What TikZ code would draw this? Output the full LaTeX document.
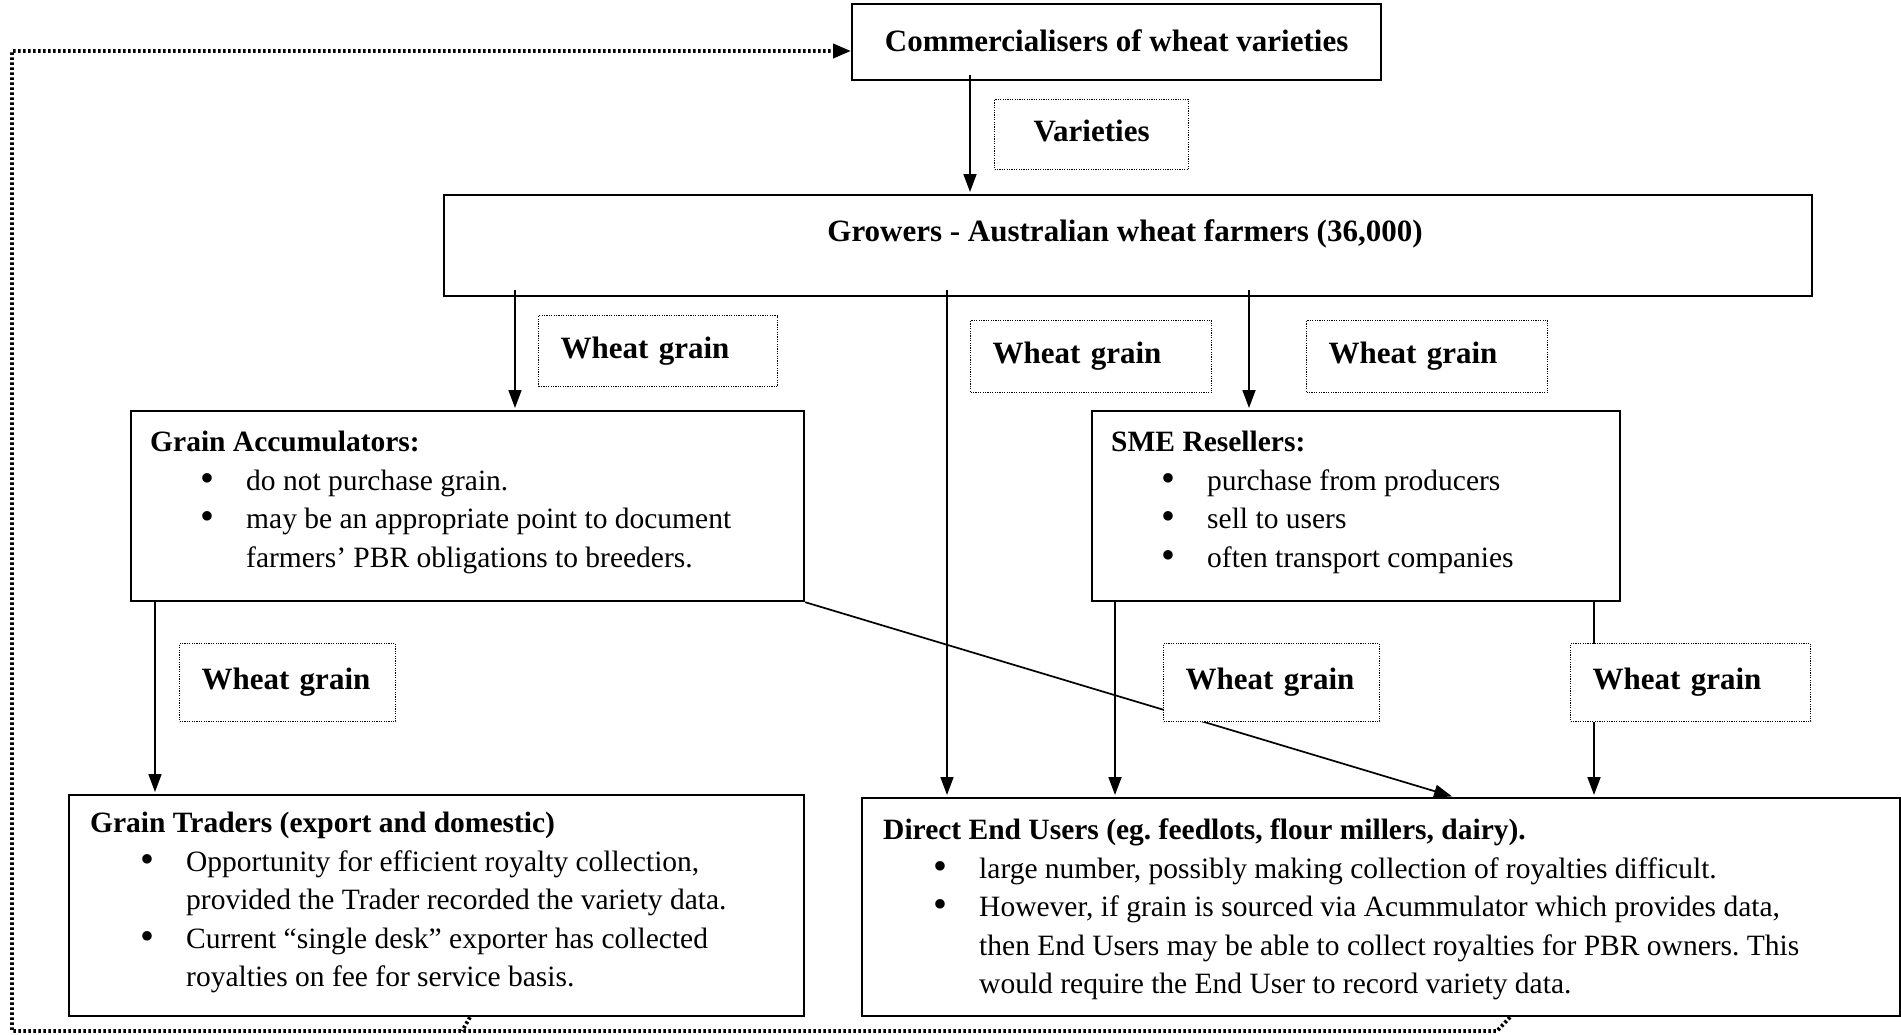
\documentclass[tikz,border=0pt]{standalone}
\usepackage{fontspec}
\usepackage{graphicx}
\setmainfont{Liberation Serif}
\usetikzlibrary{arrows.meta}
\newcommand\bul{\hspace*{50pt}\makebox[46pt][l]{\smash{\raisebox{-1pt}{\scalebox{1.35}{•}}}}}
\newcommand\cont{\hspace*{96pt}}
\frenchspacing
\begin{document}
\begin{tikzpicture}[x=1pt,y=-1pt,
 box/.style={draw, line width=2.2pt, anchor=north west, inner sep=0pt},
 lbl/.style={draw, fill=white, line width=1.2pt, dash pattern=on 1.2pt off 1.2pt, anchor=north west, inner xsep=22pt, inner ysep=0pt, align=left, font=\bfseries\fontsize{31}{36}\selectfont},
 body/.style={anchor=north west, inner sep=0pt, align=left, font=\fontsize{29.5}{38.5}\selectfont},
 ttl/.style={font=\bfseries\fontsize{31}{36}\selectfont, inner sep=0pt},
 arr/.style={line width=1.7pt, -{Triangle[length=18pt,width=13pt]}, shorten >=2pt},
 fb/.style={line width=3.8pt, dash pattern=on 2.6pt off 2.4pt}
]
\useasboundingbox (0,0) rectangle (1901,1034);

% main boxes
\node[box, minimum width=529pt, minimum height=76pt, ttl] (comm) at (851,3) {\raisebox{3pt}{Commercialisers of wheat varieties}};
\node[box, minimum width=1368pt, minimum height=101pt] (grow) at (443,194) {};
\node[ttl] (growT) at (1125,234) {Growers - Australian wheat farmers (36,000)};
\node[box, minimum width=673pt, minimum height=190pt] (ga) at (130,410) {};
\node[box, minimum width=528pt, minimum height=190pt] (sme) at (1091,410) {};
\node[box, minimum width=735pt, minimum height=221pt] (gt) at (68,794) {};
\node[box, minimum width=1038pt, minimum height=218pt] (deu) at (861,797) {};

% box texts
\node[body] (gaT) at ([xshift=20pt,yshift=-21pt]ga.north west)
 {\textbf{Grain Accumulators:}\\
  \bul do not purchase grain.\\
  \bul may be an appropriate point to document\\
  \cont farmers’ PBR obligations to breeders.};
\node[body] (smeT) at ([xshift=20pt,yshift=-21pt]sme.north west)
 {\textbf{SME Resellers:}\\
  \bul purchase from producers\\
  \bul sell to users\\
  \bul often transport companies};
\node[body] (gtT) at ([xshift=22pt,yshift=-18pt]gt.north west)
 {\textbf{Grain Traders (export and domestic)}\\
  \bul Opportunity for efficient royalty collection,\\
  \cont provided the Trader recorded the variety data.\\
  \bul Current “single desk” exporter has collected\\
  \cont royalties on fee for service basis.};
\node[body] (deuT) at ([xshift=22pt,yshift=-22pt]deu.north west)
 {\textbf{Direct End Users (eg. feedlots, flour millers, dairy).}\\
  \bul large number, possibly making collection of royalties difficult.\\
  \bul However, if grain is sourced via Acummulator which provides data,\\
  \cont then End Users may be able to collect royalties for PBR owners. This\\
  \cont would require the End User to record variety data.};

% connectors
\coordinate (xa) at (970,0);
\coordinate (xb) at (515,0);
\coordinate (xc) at (947,0);
\coordinate (xd) at (1249,0);
\coordinate (xe) at (155,0);
\coordinate (xf) at (1115,0);
\coordinate (xg) at (1594,0);
\coordinate (xh) at (1454,0);
\draw[arr, shorten <=-6pt] (comm.south -| xa) -- (grow.north -| xa);
\draw[arr, shorten <=-7pt] (grow.south -| xb) -- (ga.north -| xb);
\draw[arr, shorten <=-7pt] (grow.south -| xc) -- (deu.north -| xc);
\draw[arr, shorten <=-7pt] (grow.south -| xd) -- (sme.north -| xd);
\draw[arr] (ga.south -| xe) -- (gt.north -| xe);
\draw[arr] (sme.south -| xf) -- (deu.north -| xf);
\draw[arr] (sme.south -| xg) -- (deu.north -| xg);
\draw[arr] (ga.south east) -- (deu.north -| xh);

% feedback dotted line
\coordinate (fbA) at (1497,1031);
\coordinate (fbB) at (12,1031);
\coordinate (fbC) at (12,51);
\coordinate (fbD) at (462,1031);
\coordinate (xi) at (1510,0);
\coordinate (xj) at (470,0);
\draw[fb, -{Triangle[length=18pt,width=14pt]}] (deu.south -| xi) -- (fbA) -- (fbB) -- (fbC) -- (comm.west |- fbC);
\draw[fb] (gt.south -| xj) -- (fbD);

% labels
\node[lbl, text width=150pt, align=center, minimum height=70pt] (vars) at (994,99) {\raisebox{8pt}{Varieties}};
\node[lbl, text width=195pt, minimum height=71pt] (wg1) at (538,315) {\raisebox{4pt}{Wheat grain}};
\node[lbl, text width=197pt, minimum height=72pt] (wg2) at (970,320) {Wheat grain};
\node[lbl, text width=197pt, minimum height=72pt] (wg3) at (1306,320) {Wheat grain};
\node[lbl, text width=172pt, minimum height=78pt] (wg4) at (179,643) {Wheat grain};
\node[lbl, text width=172pt, minimum height=78pt] (wg5) at (1163,643) {Wheat grain};
\node[lbl, text width=196pt, minimum height=78pt] (wg6) at (1570,643) {Wheat grain};
\end{tikzpicture}
\end{document}
